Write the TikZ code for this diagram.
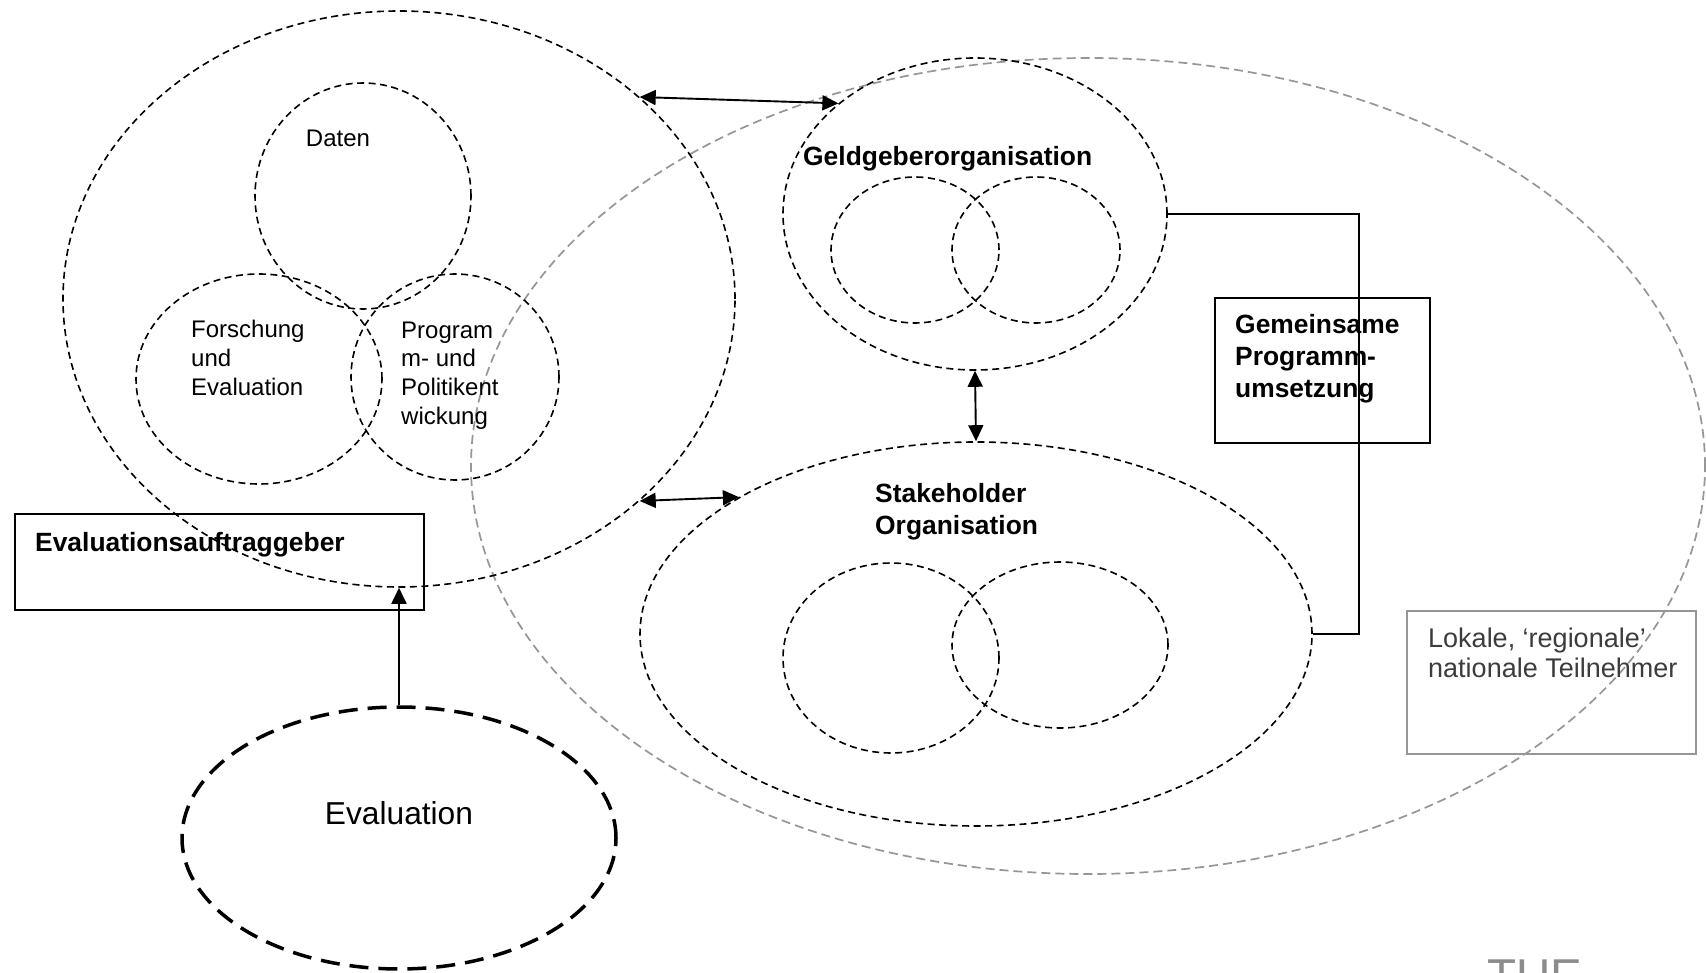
\documentclass[tikz,border=0pt]{standalone}
\usepackage{fontspec}
\setmainfont{Liberation Sans}
\usetikzlibrary{shapes.geometric,arrows.meta,calc}
\definecolor{lightgr}{RGB}{150,150,150}
\definecolor{darkgr}{RGB}{60,60,60}
\definecolor{logogr}{RGB}{140,140,140}
\begin{document}
\begin{tikzpicture}[x=1pt,y=-1pt,
  ell/.style={ellipse,draw,inner sep=0pt,line width=1.6pt,dash pattern=on 7pt off 4.5pt},
  grayell/.style={ellipse,draw=lightgr,inner sep=0pt,line width=1.7pt,dash pattern=on 9pt off 5pt},
  thickell/.style={ellipse,draw,inner sep=0pt,line width=3.5pt,dash pattern=on 19pt off 10pt},
  boxstyle/.style={draw,rectangle,inner sep=0pt,line width=1.8pt},
  graybox/.style={draw=lightgr,rectangle,inner sep=0pt,line width=1.7pt},
  txt/.style={inner sep=0pt,font=\fontsize{24}{28.7}\selectfont,align=left},
  btxt/.style={inner sep=0pt,font=\bfseries\fontsize{26.4}{32}\selectfont,align=left},
  link/.style={line width=1.9pt,{Triangle[length=16pt,width=15pt]}-{Triangle[length=16pt,width=15pt]}},
  uplink/.style={line width=1.9pt,-{Triangle[length=16pt,width=15pt]}}
]
\clip (0,0) rectangle (1706,973);
\fill[white] (0,0) rectangle (1706,973);

% large grey participants ellipse
\node[grayell,minimum width=1234pt,minimum height=816pt] (part) at (1088,466) {};

% left big circle with three inner circles
\node[ell,minimum width=672pt,minimum height=576pt] (big) at (399,299) {};
\node[ell,minimum width=216pt,minimum height=226pt] (daten) at (363,196) {};
\node[ell,minimum width=246pt,minimum height=210pt] (forsch) at (259,379) {};
\node[ell,minimum width=208pt,minimum height=206pt] (prog) at (455,377) {};
\node[txt,anchor=base] (tdaten) at (338,147) {Daten};
\node[txt,anchor=base west] (tforsch) at (191,395.4) {Forschung\\und\\Evaluation};
\node[txt,anchor=base west] (tprog) at (401,424.1) {Program\\m- und\\Politikent\\wickung};

% Geldgeber
\node[ell,minimum width=384pt,minimum height=312pt] (geld) at (975,214) {};
\node[ell,minimum width=168pt,minimum height=146pt] (g1) at (915,250) {};
\node[ell,minimum width=168pt,minimum height=146pt] (g2) at (1036,250) {};
\node[btxt,anchor=base west] (tgeld) at (803,166) {Geldgeberorganisation};

% Stakeholder
\node[ell,minimum width=672pt,minimum height=384pt] (stake) at (976,634) {};
\node[ell,minimum width=216pt,minimum height=190pt] (s1) at (891,658) {};
\node[ell,minimum width=216pt,minimum height=166pt] (s2) at (1060,645) {};
\node[btxt,anchor=base west] (tstake) at (875,534) {Stakeholder\\Organisation};

% Evaluation
\node[thickell,minimum width=434pt,minimum height=262pt] (eval) at (399,838) {};
\node[inner sep=0pt,font=\fontsize{31.7}{38}\selectfont,anchor=base] (teval) at (399,824) {Evaluation};

% boxes
\node[boxstyle,minimum width=409pt,minimum height=96pt] (auftrag) at (219.5,562) {};
\node[btxt,anchor=base west] (tauftrag) at (35,551) {Evaluationsauftraggeber};

\node[boxstyle,minimum width=215pt,minimum height=145pt] (gemein) at (1322.5,370.5) {};
\node[btxt,anchor=base west] (tgemein) at (1235,398) {Gemeinsame\\Programm-\\umsetzung};

\node[graybox,minimum width=289pt,minimum height=143pt] (lokal) at (1551.5,682.5) {};
\node[inner sep=0pt,font=\fontsize{27}{30}\selectfont,text=darkgr,align=left,anchor=base west] (tlokal) at (1428,677) {Lokale, ‘regionale’\\nationale Teilnehmer};

% logo fragment
\node[inner sep=0pt,font=\fontsize{47.5}{50}\selectfont,text=logogr,anchor=base west] (logo) at (1487,992) {TUE};

% connectors
\coordinate (jx) at (1359,0);
\draw[line width=1.5pt] (geld.east) -- (geld.east -| jx) -- (stake.east -| jx) -- (stake.east);
\draw[link] (big.40) -- (geld.141);
\draw[link] (big.-40) -- (stake.150.5);
\draw[link] (geld.south) -- (stake.north);
\draw[uplink] (eval.north) -- (big.south);
\end{tikzpicture}
\end{document}
